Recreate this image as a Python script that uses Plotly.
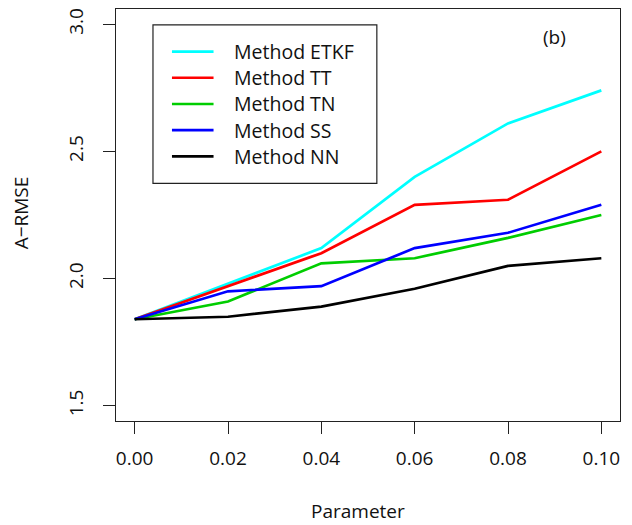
import plotly.graph_objects as go

# ---- data ----
params = [0.00, 0.02, 0.04, 0.06, 0.08, 0.10]
method_names = ["Method ETKF", "Method TT", "Method TN", "Method SS", "Method NN"]
etkf = [1.84, 1.98, 2.12, 2.40, 2.61, 2.74]
tt = [1.84, 1.97, 2.10, 2.29, 2.31, 2.50]
tn = [1.84, 1.91, 2.06, 2.08, 2.16, 2.25]
ss = [1.84, 1.95, 1.97, 2.12, 2.18, 2.29]
nn = [1.84, 1.85, 1.89, 1.96, 2.05, 2.08]
series = [etkf, tt, tn, ss, nn]
colors = ["#00FFFF", "#FF0000", "#00CD00", "#0000FF", "#000000"]
x_ticks = [0.00, 0.02, 0.04, 0.06, 0.08, 0.10]
x_ticklabels = ["0.00", "0.02", "0.04", "0.06", "0.08", "0.10"]
y_ticks = [1.5, 2.0, 2.5, 3.0]
y_ticklabels = ["1.5", "2.0", "2.5", "3.0"]

W, H = 632, 525
L, R, T, B = 115.7, 620.0, 7.3, 420.7
FONT = "Open Sans"
TXT = "#111111"

fig = go.Figure()
for name, ys, c in zip(method_names, series, colors):
    fig.add_trace(go.Scatter(x=params, y=ys, mode="lines", name=name,
                             line=dict(color=c, width=2.7), showlegend=False))


def px(x):
    return (x - L) / (R - L)


def py(y):
    return (B - y) / (B - T)


shapes = []
annotations = []
# legend box
shapes.append(dict(type="rect", xref="paper", yref="paper",
                   x0=px(152.7), x1=px(376.7), y0=py(182.3), y1=py(23.3),
                   line=dict(color="#222222", width=1.2), fillcolor="rgba(0,0,0,0)"))
row_y = [50, 76.3, 102.6, 128.9, 155.2]
for name, c, ry in zip(method_names, colors, row_y):
    shapes.append(dict(type="line", xref="paper", yref="paper",
                       x0=px(171.7), x1=px(213.3), y0=py(ry), y1=py(ry),
                       line=dict(color=c, width=2.7)))
    annotations.append(dict(xref="paper", yref="paper", x=px(231.5), y=py(ry),
                            text=name, showarrow=False, xanchor="left", yanchor="middle",
                            font=dict(family=FONT, size=19.5, color=TXT)))

annotations.append(dict(xref="paper", yref="paper", x=px(554), y=py(35.5), text="(b)",
                        showarrow=False, xanchor="center", yanchor="middle",
                        font=dict(family=FONT, size=19, color=TXT)))
# axis titles
annotations.append(dict(xref="paper", yref="paper", x=px(358), y=py(511), text="Parameter",
                        showarrow=False, xanchor="center", yanchor="middle",
                        font=dict(family=FONT, size=19, color=TXT)))
annotations.append(dict(xref="paper", yref="paper", x=px(21), y=py(212), text="A−RMSE",
                        showarrow=False, xanchor="center", yanchor="middle", textangle=-90,
                        font=dict(family=FONT, size=19, color=TXT)))

fig.update_layout(
    width=W, height=H,
    margin=dict(l=L, r=W - R, t=T, b=H - B, pad=0),
    paper_bgcolor="white", plot_bgcolor="white",
    shapes=shapes, annotations=annotations,
    font=dict(family=FONT, size=19, color=TXT),
    xaxis=dict(range=[-0.004, 0.104], tickvals=x_ticks, ticktext=x_ticklabels,
               showgrid=False, zeroline=False, showline=True, mirror=True,
               linecolor="#222222", linewidth=1.2, ticks="outside", ticklen=12,
               tickwidth=1.2, tickcolor="#222222", ticklabelstandoff=8,
               tickfont=dict(family=FONT, size=19, color=TXT)),
    yaxis=dict(range=[1.44, 3.06], tickvals=y_ticks, ticktext=y_ticklabels,
               showgrid=False, zeroline=False, showline=True, mirror=True,
               linecolor="#222222", linewidth=1.2, ticks="outside", ticklen=12,
               tickwidth=1.2, tickcolor="#222222", tickangle=-90, ticklabelstandoff=12,
               tickfont=dict(family=FONT, size=19, color=TXT)),
)

fig.write_html("out.html")
